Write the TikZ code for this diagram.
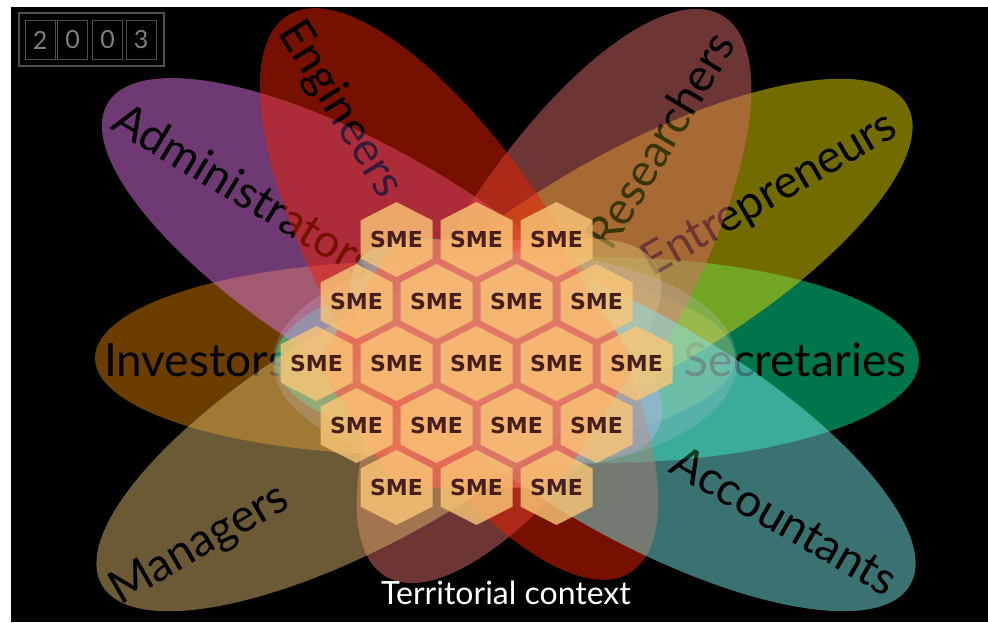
\documentclass[tikz,border=0pt]{standalone}
\usepackage{fontspec}
\setmainfont{Lato}
\newfontfamily\smefont{DejaVu Sans}
\usetikzlibrary{positioning}

\definecolor{admincol}{RGB}{222,116,230}
\definecolor{engcol}{RGB}{236,32,0}
\definecolor{rescol}{RGB}{220,106,106}
\definecolor{entcol}{RGB}{228,214,0}
\definecolor{seccol}{RGB}{0,232,148}
\definecolor{invcol}{RGB}{214,124,0}
\definecolor{mancol}{RGB}{214,180,106}
\definecolor{acccol}{RGB}{116,228,228}
\definecolor{hexcol}{RGB}{250,198,118}
\definecolor{gapcol}{RGB}{240,100,80}
\definecolor{smecol}{RGB}{70,30,30}
\definecolor{dialcol}{RGB}{80,80,80}
\definecolor{corecol}{RGB}{205,200,240}

\tikzstyle{role} = [font=\fontsize{46}{46}\selectfont, text=black, inner sep=0pt]
\tikzstyle{sme} = [font=\smefont\bfseries\fontsize{22}{22}\selectfont, text=smecol, inner sep=0pt]
\tikzstyle{digit} = [draw=dialcol, line width=1pt, minimum width=30pt, minimum height=39pt, inner sep=0pt, text=gray, font=\fontsize{25}{25}\selectfont]
\tikzstyle{hexcell} = [fill=hexcol, fill opacity=0.8]
\tikzset{petal/.style={transparency group, opacity=0.5}}

\begin{document}
\begin{tikzpicture}[x=1pt, y=-1pt]
    \useasboundingbox (0,0) rectangle (988,622);
    \fill[black] (11,7) rectangle (988,622);

    % year counter
    \draw[dialcol, line width=2.5pt] (19,13) rectangle (164,66);
    \node[digit] (y1) at (40,40) {2};
    \node[digit] (y2) at (72.5,40) {0};
    \node[digit] (y3) at (107.5,40) {0};
    \node[digit] (y4) at (141,40) {3};

    % petals, bottom to top
    \begin{scope}[petal]
        \fill[invcol] (415,358) ellipse [x radius=320, y radius=97];
        \node[role] (investors) at (196,360) {Investors};
    \end{scope}
    \begin{scope}[petal]
        \fill[seccol] (597,360) ellipse [x radius=322, y radius=103];
        \node[role] (secretaries) at (795,360) {Secretaries};
    \end{scope}
    \begin{scope}[petal]
        \fill[admincol, rotate around={-31:(382,268)}] (382,268) ellipse [x radius=320, y radius=110];
        \node[role, rotate=-31] (admins) at (245,190) {Administrators};
    \end{scope}
    \begin{scope}[petal]
        \fill[entcol, rotate around={30:(630,265)}] (630,265) ellipse [x radius=320, y radius=110];
        \node[role, rotate=30] (entrepreneurs) at (770,195) {Entrepreneurs};
    \end{scope}
    \begin{scope}[petal]
        \fill[rescol, rotate around={59:(554,296)}] (554,296) ellipse [x radius=327, y radius=120];
        \node[role, rotate=59] (researchers) at (660,140) {Researchers};
    \end{scope}
    \begin{scope}[petal]
        \fill[engcol, rotate around={-58.5:(459,294)}] (459,294) ellipse [x radius=327, y radius=120];
        \node[role, rotate=-58.5] (engineers) at (340,110) {Engineers};
    \end{scope}
    \begin{scope}[petal]
        \fill[mancol, rotate around={30:(379,425)}] (379,425) ellipse [x radius=320, y radius=110];
        \node[role, rotate=30] (managers) at (200,545) {Managers};
    \end{scope}
    \begin{scope}[petal]
        \fill[acccol, rotate around={-30:(633,425)}] (633,425) ellipse [x radius=320, y radius=110];
        \node[role, rotate=-30] (accountants) at (785,520) {Accountants};
    \end{scope}

    % light core
    \fill[corecol, opacity=0.2] (505,362) ellipse [x radius=232, y radius=110];

    % SME cluster
    \fill[gapcol, opacity=0.75] (396.5,239.5) -- (556.5,239.5) -- (636.5,363.5)
        -- (556.5,487.5) -- (396.5,487.5) -- (316.5,363.5) -- cycle;
    \foreach \row/\n in {-2/3,-1/4,0/5,1/4,2/3} {
        \foreach \k in {1,...,\n} {
            \pgfmathsetmacro{\hx}{476.5 + 80*\k - 40*(\n+1)}
            \pgfmathsetmacro{\hy}{363.5 + 62*\row}
            \fill[hexcell] (\hx,\hy) +(0,-37.5) -- +(36,-19) -- +(36,19) -- +(0,37.5)
                -- +(-36,19) -- +(-36,-19) -- cycle;
            \node[sme] (sme\row-\k) at (\hx,\hy) {SME};
        }
    }

    \node[font=\fontsize{32}{32}\selectfont, text=white, anchor=base] (context) at (506,604) {Territorial context};
\end{tikzpicture}
\end{document}
